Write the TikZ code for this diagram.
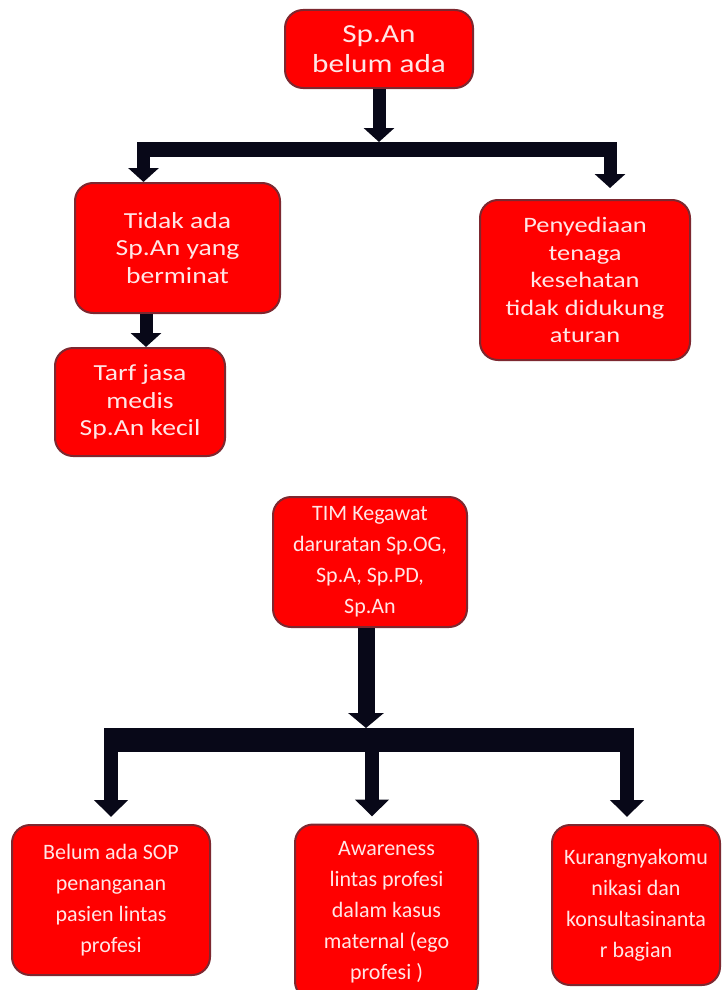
\documentclass[tikz,border=0pt]{standalone}
\usepackage{fontspec}
\setmainfont{Carlito}
\newfontfamily\widefont{Carlito}[FakeStretch=1.2]
\usetikzlibrary{arrows.meta}
\definecolor{boxred}{RGB}{255,0,0}
\definecolor{edgered}{RGB}{125,40,48}
\definecolor{textpink}{RGB}{255,230,230}
\definecolor{arrowblack}{RGB}{8,8,24}

\begin{document}
\begin{tikzpicture}[x=1pt,y=-1pt,
    main node/.style={rectangle,rounded corners=18pt,draw=edgered,line width=2pt,
      fill=boxred,text=textpink,align=center,inner sep=0pt},
    upper node/.style={main node,font=\widefont\fontsize{23}{27.5}\selectfont},
    lower node/.style={main node,font=\fontsize{22}{31}\selectfont},
    drop/.style={arrowblack,line width=13pt,-{Triangle[width=30pt,length=14pt]}},
    big drop/.style={arrowblack,line width=14pt,-{Triangle[width=33pt,length=17pt]}},
    bar/.style={arrowblack,line width=15pt}]
  \useasboundingbox (0,0) rectangle (722,990);

  % first tree
  \node[upper node,minimum width=188pt,minimum height=78pt,
        font=\widefont\fontsize{26}{30}\selectfont] (1) at (379,49) {Sp.An\\belum ada};
  \node[upper node,minimum width=205pt,minimum height=130pt] (2) at (177.5,248)
        {Tidak ada\\Sp.An yang\\berminat};
  \node[upper node,minimum width=210pt,minimum height=160pt,
        font=\widefont\fontsize{22}{27.5}\selectfont] (3) at (585,280)
        {Penyediaan\\tenaga\\kesehatan\\tidak didukung\\aturan};
  \node[upper node,minimum width=170pt,minimum height=108pt] (4) at (140,402)
        {Tarf jasa\\medis\\Sp.An kecil};

  \coordinate (t1) at (379,142);
  \coordinate (b1l) at (137,149.5);
  \coordinate (b1r) at (617,149.5);
  \coordinate (d1) at (143.5,149.5);
  \coordinate (d2) at (610,149.5);
  \coordinate (e2) at (610,188);
  \coordinate (c2) at (146,0);

  \draw[bar] (b1l) -- (b1r);
  \draw[drop] (1) -- (t1);
  \draw[drop] (d1) -- (2.north -| d1);
  \draw[drop] (d2) -- (e2);
  \draw[drop] (2.south -| c2) -- (4.north -| c2);

  % second tree
  \node[lower node,minimum width=194pt,minimum height=130pt] (5) at (370,562)
        {TIM Kegawat\\daruratan Sp.OG,\\Sp.A, Sp.PD,\\Sp.An};
  \node[lower node,minimum width=198pt,minimum height=150pt] (6) at (111,900)
        {Belum ada SOP\\penanganan\\pasien lintas\\profesi};
  \node[lower node,minimum width=183pt,minimum height=175pt] (7) at (386.5,912)
        {Awareness\\lintas profesi\\dalam kasus\\maternal (ego\\profesi )};
  \node[lower node,minimum width=168pt,minimum height=160pt] (8) at (636,905)
        {Kurangnyakomu\\nikasi dan\\konsultasinanta\\r bagian};

  \coordinate (t2) at (366,728);
  \coordinate (b2l) at (104,740);
  \coordinate (b2r) at (634,740);
  \coordinate (d3) at (111,740);
  \coordinate (d4) at (372,740);
  \coordinate (d5) at (627,740);

  \draw[bar,line width=24pt] (b2l) -- (b2r);
  \draw[drop,line width=17pt,-{Triangle[width=35pt,length=15pt]}] (5.south -| t2) -- (t2);
  \draw[big drop,shorten >=7pt] (d3) -- (6.north -| d3);
  \draw[big drop,shorten >=7pt] (d4) -- (7.north -| d4);
  \draw[big drop,shorten >=7pt] (d5) -- (8.north -| d5);
\end{tikzpicture}
\end{document}
